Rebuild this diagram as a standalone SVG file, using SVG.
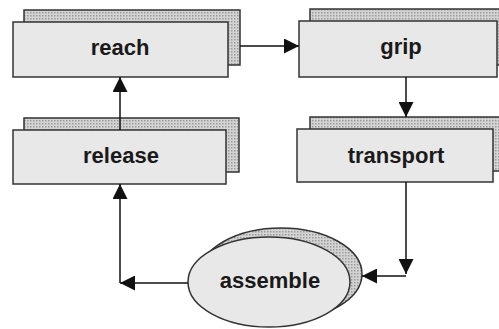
<svg xmlns="http://www.w3.org/2000/svg" width="499" height="329" viewBox="0 0 499 329">
<defs>
<pattern id="dots" width="3" height="3" patternUnits="userSpaceOnUse">
<rect width="3" height="3" fill="#d4d4d4"/>
<rect width="1.5" height="1.5" fill="#9a9a9a"/>
</pattern>
<marker id="ah" viewBox="0 0 10 10" refX="10" refY="5" markerWidth="16" markerHeight="15" markerUnits="userSpaceOnUse" orient="auto">
<path d="M0,0 L10,5 L0,10 z" fill="#111"/>
</marker>
</defs>
<style>
.back{fill:url(#dots);stroke:#333;stroke-width:1.5}
.front{fill:#e8e8e8;stroke:#333;stroke-width:1.5}
.lbl{font-family:"Liberation Sans",Arial,sans-serif;font-weight:bold;font-size:22px;fill:#1a1a1a;text-anchor:middle}
.con{fill:none;stroke:#111;stroke-width:1.5;marker-end:url(#ah)}
</style>
<g id="reach">
<rect class="back" x="24" y="10" width="216" height="55"/>
<rect class="front" x="13" y="22" width="215" height="55"/>
<text class="lbl" x="120" y="55">reach</text>
</g>
<g id="grip">
<rect class="back" x="310" y="9" width="195" height="56"/>
<rect class="front" x="299" y="21" width="198" height="56"/>
<text class="lbl" x="401" y="54">grip</text>
</g>
<g id="release">
<rect class="back" x="24" y="118" width="215" height="54"/>
<rect class="front" x="13" y="130" width="213" height="54"/>
<text class="lbl" x="121" y="163">release</text>
</g>
<g id="transport">
<rect class="back" x="310" y="117" width="195" height="54"/>
<rect class="front" x="297" y="129" width="196" height="53"/>
<text class="lbl" x="396" y="163">transport</text>
</g>
<g id="assemble">
<ellipse class="back" cx="281" cy="274" rx="81" ry="46"/>
<ellipse class="front" cx="269" cy="282" rx="81" ry="45"/>
<text class="lbl" x="270" y="288">assemble</text>
</g>
<g id="connectors">
<path class="con" d="M240,46 L299,46"/>
<path class="con" d="M406,77 L406,117"/>
<path class="con" d="M406,182 L406,274"/>
<path class="con" d="M406,276 L362,276"/>
<path class="con" d="M188,283 L120,283"/>
<path class="con" d="M120,283 L120,184"/>
<path class="con" d="M120,130 L120,77"/>
</g>
</svg>
